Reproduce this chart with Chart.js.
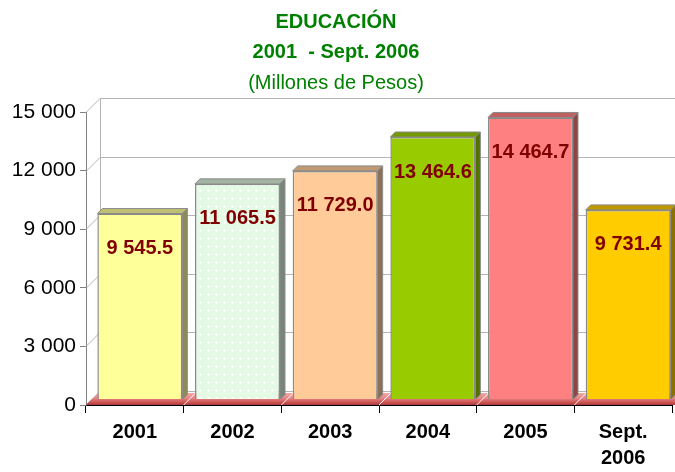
<!DOCTYPE html>
<html>
<head>
<meta charset="utf-8">
<script src="https://cdn.jsdelivr.net/npm/chart.js@4.4.1/dist/chart.umd.min.js"></script>
<style>
  body { margin: 0; background: #fff; }
</style>
</head>
<body>
<canvas id="chart" width="675" height="472"></canvas>
<script>
const categories = ['2001', '2002', '2003', '2004', '2005', ['Sept.', '2006']];
const values = [9545.5, 11065.5, 11729.0, 13464.6, 14464.7, 9731.4];
const yTicks = [0, 3000, 6000, 9000, 12000, 15000];
const barColors = ['#FFFF99', 'pattern', '#FFCC99', '#99CC00', '#FF8080', '#FFCC00'];

const DEPTH = 14;   // back wall offset
const BAR_D = 5;    // bar depth
const SHIFT = 5;    // bars stand in the middle of the floor

// "9 545.5" style numbers
function fmt(v, dec) {
    const s = v.toFixed(dec);
    const parts = s.split('.');
    const intPart = parts[0].replace(/\B(?=(\d{3})+(?!\d))/g, ' ');
    return parts.length > 1 ? intPart + '.' + parts[1] : intPart;
}

// dotted light green fill for 2002
function makePattern() {
    const pc = document.createElement('canvas');
    pc.width = 8; pc.height = 8;
    const p = pc.getContext('2d');
    p.fillStyle = '#E4FAE4';
    p.fillRect(0, 0, 8, 8);
    p.fillStyle = '#ffffff';
    p.fillRect(3, 2, 1, 3);
    p.fillRect(2, 3, 3, 1);
    return document.getElementById('chart').getContext('2d').createPattern(pc, 'repeat');
}

function shade(hex, f) {
    const n = parseInt(hex.slice(1), 16);
    const r = Math.round(((n >> 16) & 255) * f);
    const g = Math.round(((n >> 8) & 255) * f);
    const b = Math.round((n & 255) * f);
    return 'rgb(' + r + ',' + g + ',' + b + ')';
}

const pattern = makePattern();
const fills = barColors.map(c => c === 'pattern' ? pattern : c);
const baseColors = barColors.map(c => c === 'pattern' ? '#D8F0D8' : c);

function floorSeparators(chart, y0, y1) {
    const ctx = chart.ctx;
    const x = chart.scales.x;
    ctx.strokeStyle = '#ffffff';
    ctx.lineWidth = 1;
    for (let i = 1; i < categories.length; i++) {
        const bx = (x.getPixelForValue(i - 1) + x.getPixelForValue(i)) / 2;
        ctx.beginPath();
        ctx.moveTo(bx + (y1 - y0 === 0 ? 0 : 0), y1);
        ctx.lineTo(bx + (y1 - y0), y0);
        ctx.stroke();
    }
}

const threeD = {
    id: 'threeD',
    beforeDatasetsDraw(chart) {
        const ctx = chart.ctx;
        const area = chart.chartArea;
        const y = chart.scales.y;
        ctx.save();
        // back wall grid lines
        ctx.strokeStyle = '#B4B4B4';
        ctx.lineWidth = 1;
        yTicks.forEach(v => {
            const py = Math.round(y.getPixelForValue(v)) + 0.5;
            ctx.beginPath();
            ctx.moveTo(area.left, py);
            ctx.lineTo(area.left + DEPTH, py - DEPTH);
            ctx.lineTo(chart.width, py - DEPTH);
            ctx.stroke();
        });
        // back wall left edge
        const top = y.getPixelForValue(15000);
        const bot = y.getPixelForValue(0);
        ctx.beginPath();
        ctx.moveTo(area.left + DEPTH + 0.5, top - DEPTH);
        ctx.lineTo(area.left + DEPTH + 0.5, bot - DEPTH);
        ctx.stroke();
        // red floor
        const grad = ctx.createLinearGradient(0, bot - 12, 0, bot);
        grad.addColorStop(0, '#F4A8A8');
        grad.addColorStop(0.6, '#E07878');
        grad.addColorStop(1, '#C04848');
        ctx.fillStyle = grad;
        ctx.beginPath();
        ctx.moveTo(area.left, bot);
        ctx.lineTo(area.left + 12, bot - 12);
        ctx.lineTo(chart.width, bot - 12);
        ctx.lineTo(chart.width, bot);
        ctx.closePath();
        ctx.fill();
        floorSeparators(chart, bot - 12, bot);
        ctx.restore();
    },
    beforeDatasetDraw(chart) {
        chart.ctx.save();
        chart.ctx.translate(SHIFT, -SHIFT);
    },
    afterDatasetDraw(chart) {
        chart.ctx.restore();
    },
    afterDatasetsDraw(chart) {
        const ctx = chart.ctx;
        const area = chart.chartArea;
        const meta = chart.getDatasetMeta(0);
        ctx.save();
        meta.data.forEach((bar, i) => {
            const p = bar.getProps(['x', 'y', 'base', 'width'], true);
            const l = p.x - p.width / 2 + SHIFT, r = p.x + p.width / 2 + SHIFT;
            const t = p.y - SHIFT, b = p.base - SHIFT;
            ctx.strokeStyle = '#8A8A8A';
            ctx.lineWidth = 1;
            // top face
            ctx.fillStyle = shade(baseColors[i], 0.75);
            ctx.beginPath();
            ctx.moveTo(l, t);
            ctx.lineTo(l + BAR_D, t - BAR_D);
            ctx.lineTo(r + BAR_D, t - BAR_D);
            ctx.lineTo(r, t);
            ctx.closePath();
            ctx.fill();
            ctx.stroke();
            // side face
            ctx.fillStyle = shade(baseColors[i], 0.55);
            ctx.beginPath();
            ctx.moveTo(r, t);
            ctx.lineTo(r + BAR_D, t - BAR_D);
            ctx.lineTo(r + BAR_D, b - BAR_D);
            ctx.lineTo(r, b);
            ctx.closePath();
            ctx.fill();
            ctx.stroke();
            // value label
            ctx.fillStyle = '#800000';
            ctx.font = 'bold 20px "Liberation Sans", Arial, sans-serif';
            ctx.textAlign = 'center';
            ctx.textBaseline = 'middle';
            ctx.fillText(fmt(values[i], 1), (l + r) / 2, t + 35);
        });
        // front strip of the floor, in front of the bars
        const bot = chart.scales.y.getPixelForValue(0);
        const grad = ctx.createLinearGradient(0, bot - 6, 0, bot);
        grad.addColorStop(0, '#E07878');
        grad.addColorStop(0.5, '#D05858');
        grad.addColorStop(1, '#A83838');
        ctx.fillStyle = grad;
        ctx.beginPath();
        ctx.moveTo(area.left, bot);
        ctx.lineTo(area.left + 6, bot - 6);
        ctx.lineTo(chart.width, bot - 6);
        ctx.lineTo(chart.width, bot);
        ctx.closePath();
        ctx.fill();
        floorSeparators(chart, bot - 6, bot);
        ctx.restore();
    }
};

new Chart(document.getElementById('chart'), {
    type: 'bar',
    data: {
        labels: categories,
        datasets: [{
            data: values,
            backgroundColor: fills,
            borderColor: '#8A8A8A',
            borderWidth: 1.5,
            categoryPercentage: 0.87,
            barPercentage: 1.0
        }]
    },
    options: {
        responsive: false,
        animation: false,
        layout: { padding: { left: 0, right: 3, top: 0, bottom: 0 } },
        plugins: {
            legend: { display: false },
            tooltip: { enabled: false },
            title: {
                display: true,
                text: ['EDUCACIÓN', '2001  - Sept. 2006'],
                color: '#008000',
                font: { family: '"Liberation Sans", Arial, sans-serif', size: 20, weight: 'bold', lineHeight: 1.5 },
                padding: { top: 7, bottom: 0 }
            },
            subtitle: {
                display: true,
                text: '(Millones de Pesos)',
                color: '#008000',
                font: { family: '"Liberation Sans", Arial, sans-serif', size: 20, lineHeight: 1.5 },
                padding: { top: 1, bottom: 14 }
            }
        },
        scales: {
            y: {
                min: 0,
                max: 15000,
                afterFit(s) { s.width = 86; },
                ticks: {
                    stepSize: 3000,
                    color: '#000',
                    padding: 4,
                    font: { family: '"Liberation Sans", Arial, sans-serif', size: 21 },
                    callback: v => fmt(v, 0)
                },
                grid: { drawOnChartArea: false, tickLength: 6, color: '#808080' },
                border: { color: '#808080' }
            },
            x: {
                afterFit(s) { s.height = 67; },
                ticks: {
                    color: '#000',
                    padding: 6,
                    font: { family: '"Liberation Sans", Arial, sans-serif', size: 20, weight: 'bold', lineHeight: 1.3 }
                },
                grid: { drawOnChartArea: false, offset: true, tickLength: 8, color: '#000' },
                border: { color: '#000' }
            }
        }
    },
    plugins: [threeD]
});
</script>
</body>
</html>
